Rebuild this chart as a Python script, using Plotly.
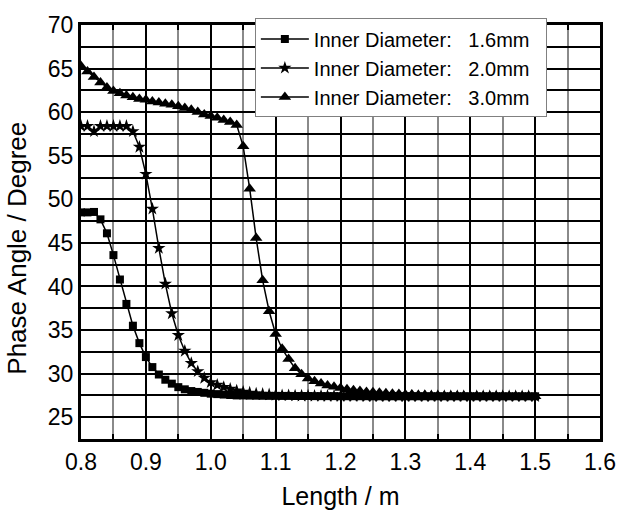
import plotly.graph_objects as go

# Length (m), 0.80 .. 1.50 step 0.01
length_m = [0.80, 0.81, 0.82, 0.83, 0.84, 0.85, 0.86, 0.87, 0.88, 0.89,
            0.90, 0.91, 0.92, 0.93, 0.94, 0.95, 0.96, 0.97, 0.98, 0.99,
            1.00, 1.01, 1.02, 1.03, 1.04, 1.05, 1.06, 1.07, 1.08, 1.09,
            1.10, 1.11, 1.12, 1.13, 1.14, 1.15, 1.16, 1.17, 1.18, 1.19,
            1.20, 1.21, 1.22, 1.23, 1.24, 1.25, 1.26, 1.27, 1.28, 1.29,
            1.30, 1.31, 1.32, 1.33, 1.34, 1.35, 1.36, 1.37, 1.38, 1.39,
            1.40, 1.41, 1.42, 1.43, 1.44, 1.45, 1.46, 1.47, 1.48, 1.49,
            1.50]

phase_16mm = [48.5, 48.5, 48.55, 47.7, 46.1, 43.6, 40.8, 38.0, 35.5, 33.5,
              31.9, 30.75, 29.9, 29.3, 28.85, 28.45, 28.2, 28.0, 27.9, 27.8,
              27.7, 27.65, 27.6, 27.55, 27.5, 27.5, 27.48, 27.47, 27.46, 27.45,
              27.45, 27.44, 27.44, 27.43, 27.43, 27.43, 27.42, 27.42, 27.42, 27.42,
              27.41, 27.41, 27.41, 27.41, 27.41, 27.4, 27.4, 27.4, 27.4, 27.4,
              27.4, 27.4, 27.4, 27.4, 27.4, 27.4, 27.4, 27.4, 27.4, 27.4,
              27.4, 27.4, 27.4, 27.4, 27.4, 27.4, 27.4, 27.4, 27.4, 27.4,
              27.4]

phase_20mm = [58.4, 58.4, 57.8, 58.4, 58.4, 58.4, 58.4, 58.4, 57.8, 56.0,
              52.9, 48.9, 44.4, 40.3, 36.9, 34.4, 32.6, 31.2, 30.25, 29.5,
              29.0, 28.7, 28.45, 28.25, 28.05, 27.9, 27.8, 27.7, 27.65, 27.6,
              27.55, 27.5, 27.5, 27.47, 27.46, 27.45, 27.44, 27.43, 27.43, 27.42,
              27.42, 27.41, 27.41, 27.41, 27.4, 27.4, 27.4, 27.4, 27.4, 27.4,
              27.4, 27.4, 27.4, 27.4, 27.4, 27.4, 27.4, 27.4, 27.4, 27.4,
              27.4, 27.4, 27.4, 27.4, 27.4, 27.4, 27.4, 27.4, 27.4, 27.4,
              27.4]

phase_30mm = [65.3, 64.66, 64.03, 63.39, 62.83, 62.42, 62.16, 61.9, 61.71, 61.52,
              61.41, 61.23, 61.12, 60.96, 60.85, 60.67, 60.48, 60.29, 60.03, 59.73,
              59.55, 59.36, 59.1, 58.88, 58.54, 56.08, 51.22, 45.55, 40.7, 37.16,
              34.54, 32.86, 31.67, 30.62, 29.94, 29.43, 29.13, 28.87, 28.65, 28.5,
              28.35, 28.2, 28.1, 28.0, 27.9, 27.85, 27.8, 27.75, 27.7, 27.65,
              27.6, 27.6, 27.55, 27.55, 27.5, 27.5, 27.47, 27.46, 27.45, 27.45,
              27.44, 27.44, 27.43, 27.43, 27.42, 27.42, 27.41, 27.41, 27.4, 27.4,
              27.4]

NB = "\u00a0"
series_names = ["Inner Diameter:" + NB * 3 + "1.6mm" + NB * 2,
                "Inner Diameter:" + NB * 3 + "2.0mm" + NB * 2,
                "Inner Diameter:" + NB * 3 + "3.0mm" + NB * 2]
series_values = [phase_16mm, phase_20mm, phase_30mm]
series_symbols = ["square", "star", "triangle-up"]
series_sizes = [8, 10, 11]

x_ticks = [0.8, 0.9, 1.0, 1.1, 1.2, 1.3, 1.4, 1.5, 1.6]
y_ticks = [25, 30, 35, 40, 45, 50, 55, 60, 65, 70]

FONT = "Liberation Sans, Arial, sans-serif"

fig = go.Figure()
for name, vals, sym, sz in zip(series_names, series_values, series_symbols, series_sizes):
    fig.add_trace(go.Scatter(
        x=length_m, y=vals, name=name, mode="lines+markers",
        line=dict(color="black", width=1.5),
        marker=dict(symbol=sym, size=sz, color="black", line=dict(width=0)),
    ))

fig.update_layout(
    width=628, height=523,
    margin=dict(l=81, r=18, t=15, b=84),
    paper_bgcolor="white", plot_bgcolor="white",
    font=dict(family=FONT, size=23, color="black"),
    showlegend=True,
    legend=dict(
        x=0.335, y=1.016, xanchor="left", yanchor="top",
        bgcolor="white", bordercolor="#808080", borderwidth=1,
        font=dict(family=FONT, size=20, color="black"),
        itemwidth=48, tracegroupgap=0,
    ),
    annotations=[dict(
        text="Phase Angle / Degree", xref="paper", yref="paper",
        x=-0.125, y=0.46, xanchor="center", yanchor="middle",
        textangle=-90, showarrow=False,
        font=dict(family=FONT, size=26, color="black"),
    )],
)

fig.update_xaxes(
    range=[0.8, 1.6], tickmode="array", tickvals=x_ticks,
    ticktext=[f"{v:.1f}" for v in x_ticks],
    showgrid=True, gridcolor="black", gridwidth=1.5,
    minor=dict(dtick=0.05, tick0=0.8, showgrid=True, gridcolor="#8a8a8a", gridwidth=1.5,
               ticks="inside", ticklen=5, tickwidth=2, tickcolor="black"),
    ticks="inside", ticklen=6, tickwidth=2, tickcolor="black",
    showline=True, linewidth=3, linecolor="black", mirror="allticks",
    zeroline=False,
    title=dict(text="Length / m", font=dict(family=FONT, size=25), standoff=14),
    tickfont=dict(family=FONT, size=23),
)

fig.update_yaxes(
    range=[22.5, 70], tickmode="array", tickvals=y_ticks,
    showgrid=True, gridcolor="black", gridwidth=1.5,
    minor=dict(dtick=2.5, tick0=0, showgrid=True, gridcolor="black", gridwidth=1.5,
               ticks="inside", ticklen=5, tickwidth=2, tickcolor="black"),
    ticks="inside", ticklen=6, tickwidth=2, tickcolor="black",
    showline=True, linewidth=3, linecolor="black", mirror="allticks",
    zeroline=False,
    tickfont=dict(family=FONT, size=23),
)

fig.write_html("out.html")
